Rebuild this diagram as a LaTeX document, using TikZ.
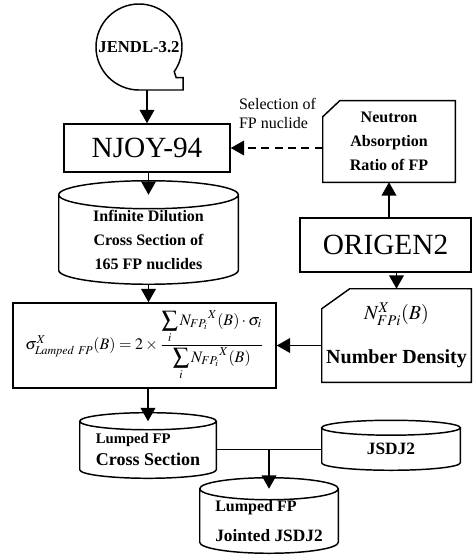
\documentclass[tikz,border=0pt]{standalone}
\usepackage{mathptmx}
\usepackage{fontspec}
\setmainfont{Liberation Serif}
\usetikzlibrary{arrows.meta,calc}

% data store outline round a node: #1 node, #2 half height of the ellipse
\newcommand\dbcyl[2]{%
  \draw[box] let \p1=(#1.north west), \p2=(#1.north east), \n1={(\x2-\x1)/2} in
    (#1.north) ellipse[x radius=\n1, y radius=#2]
    (#1.north west) -- ($(#1.south west)+(0,#2)$)
    arc[start angle=180, end angle=360, x radius=\n1, y radius=#2]
    -- (#1.north east);}
% card outline with the north west corner cut
\newcommand\card[3]{%
  \draw[box] ($(#1.north west)+(0,-#3)$) -- ($(#1.north west)+(#2,0)$)
    -- (#1.north east) -- (#1.south east) -- (#1.south west) -- cycle;}

\begin{document}
\begin{tikzpicture}[x=0.75pt,y=-0.75pt,
  box/.style={line width=1.1pt},
  flow/.style={line width=1.1pt,-{Triangle[width=11pt,length=10pt]}},
  lbl/.style={font=\fontsize{12}{18}\selectfont\bfseries,align=center,inner sep=0}]
\useasboundingbox (0,0) rectangle (473,556);

% left column
\node[circle,minimum size=64.5pt,inner sep=0,outer sep=0,font=\fontsize{12.5}{15}\selectfont\bfseries] (jendl) at (139,47) {JENDL-3.2};
\draw[box] (jendl.south) arc[start angle=270, end angle=-35, radius=32.25pt] -- ++(2,6) -- ++(7,0) |- (jendl.south);
\node[draw,box,minimum width=124.5pt,minimum height=36pt,inner sep=0,font=\fontsize{22}{26}\selectfont] (njoy) at (147,148) {NJOY-94};
\node[lbl,minimum width=134.25pt,minimum height=66.75pt] (idcs) at (148.5,239.5) {Infinite Dilution\\Cross Section of\\165 FP nuclides};
\dbcyl{idcs}{10.5pt}
\node[draw,box,minimum width=197.25pt,minimum height=63.75pt,inner sep=0,font=\fontsize{12}{14}\selectfont] (formula) at (144.5,345.5)
  {$\sigma^{X}_{\mathit{Lamped\ FP}}(B)=2\times\displaystyle\frac{\displaystyle\sum_{i}N_{FP_i}{}^{X}(B)\cdot\sigma_i}{\displaystyle\sum_{i}N_{FP_i}{}^{X}(B)}$};

% right column
\node[lbl,minimum width=99pt,minimum height=60.75pt] (nar) at (389,141.5) {Neutron\\Absorption\\Ratio of FP};
\card{nar}{12.75pt}{12pt}
\node[draw,box,minimum width=128.25pt,minimum height=40.5pt,inner sep=0,font=\fontsize{22}{26}\selectfont] (origen) at (385.5,245) {ORIGEN2};
\node[lbl,minimum width=111.75pt,minimum height=69.75pt,font=\fontsize{15}{18}\selectfont\bfseries] (nd) at (396.5,335.5) {$N^{X}_{FPi}(B)$\\[15pt]Number Density};
\card{nd}{21pt}{15pt}
\node[align=left,inner sep=0,font=\fontsize{12}{14}\selectfont] (sel) at (277.5,113.5) {Selection of\\FP nuclide};

% bottom
\node[lbl,align=left,minimum width=102pt,minimum height=42.4pt,font=\fontsize{13.5}{16.5}\selectfont\bfseries] (lumped) at (148,449.75) {{\fontsize{11}{16.5}\selectfont Lumped FP}\\Cross Section};
\dbcyl{lumped}{6.4pt}
\node[lbl,minimum width=103.5pt,minimum height=31.5pt,font=\fontsize{13}{16}\selectfont\bfseries] (jsdj2) at (391,449) {JSDJ2};
\dbcyl{jsdj2}{5.6pt}
\node[lbl,align=left,minimum width=103.5pt,minimum height=48pt,font=\fontsize{13}{23}\selectfont\bfseries] (joint) at (269,521) {{\fontsize{12}{23}\selectfont Lumped FP}\\Jointed JSDJ2};
\dbcyl{joint}{8.25pt}

% connectors
\draw[flow] (njoy.north |- jendl.south) -- (njoy.north);
\draw[flow] (idcs.north |- njoy.south) -- (idcs.north);
\draw[flow] (idcs.south) -- (idcs.south |- formula.north);
\draw[flow] (lumped.north |- formula.south) -- (lumped.north);
\draw[flow] (nar.south |- origen.north) -- (nar.south);
\draw[flow] (origen.south -| nd.north) -- (nd.north);
\draw[flow] (nd.west |- formula.east) -- (formula.east);
\draw[flow,dashed,dash pattern=on 6pt off 4pt] (nar.west |- njoy.east) -- (njoy.east);
\draw[box] (lumped.east) -- (lumped.east -| jsdj2.west);
\draw[flow] (lumped.east -| joint.north) -- (joint.north);
\end{tikzpicture}
\end{document}
